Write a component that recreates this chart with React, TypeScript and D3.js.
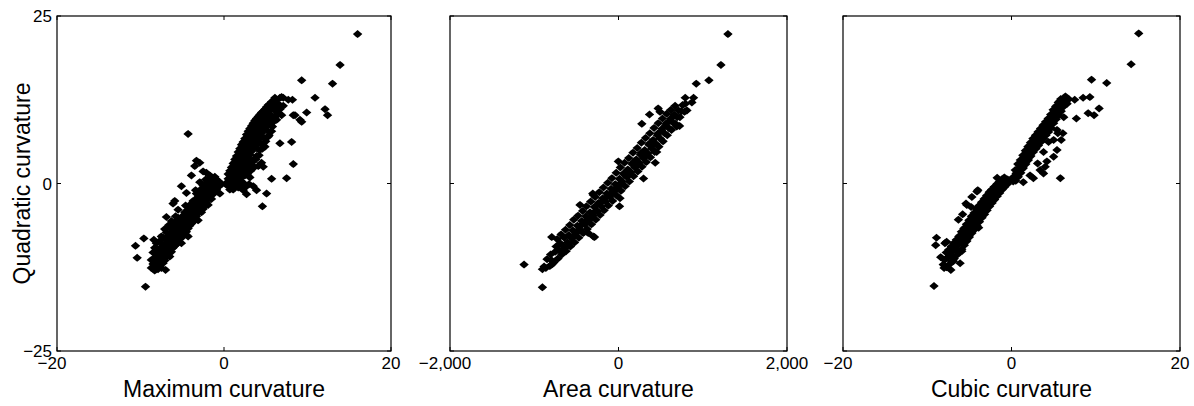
import React from "react";
import * as d3 from "d3";

// ---------- data ----------
const yTicks = [-25, 0, 25];
const yTickLabels = ["\u221225", "0", "25"];

const maxTicks = [-20, 0, 20];
const maxTickLabels = ["\u221220", "0", "20"];
const areaTicks = [-2000, 0, 2000];
const areaTickLabels = ["\u22122,000", "0", "2,000"];
const cubicTicks = [-20, 0, 20];
const cubicTickLabels = ["\u221220", "0", "20"];

const xTitles = ["Maximum curvature", "Area curvature", "Cubic curvature"];
const yTitle = "Quadratic curvature";

// Maximum curvature vs Quadratic curvature
const maximumPoints: [number, number][] = [
  // negative cluster
  [-8.7,-11.4],[-8.7,-12.6],[-8.5,-10.3],[-8.5,-12.0],[-8.3,-13.0],[-8.3,-11.1],[-8.3,-9.6],
  [-8.1,-12.2],[-8.1,-10.6],[-8.1,-8.9],[-7.9,-11.7],[-7.9,-9.9],[-7.9,-12.8],
  [-7.7,-10.9],[-7.7,-8.6],[-7.7,-12.3],[-7.7,-9.7],[-7.5,-11.6],[-7.5,-10.1],[-7.5,-7.9],[-7.5,-12.6],
  [-7.3,-9.2],[-7.3,-10.8],[-7.3,-11.9],[-7.3,-8.1],[-7.1,-10.4],[-7.1,-6.8],[-7.1,-9.1],[-7.1,-11.5],
  [-6.9,-8.4],[-6.9,-9.8],[-6.9,-11.0],[-6.9,-7.3],[-6.9,-5.0],[-6.7,-9.4],[-6.7,-10.6],[-6.7,-7.8],[-6.7,-8.7],
  [-6.5,-8.0],[-6.5,-9.9],[-6.5,-6.6],[-6.5,-10.9],[-6.3,-7.3],[-6.3,-9.0],[-6.3,-8.3],[-6.3,-10.2],[-6.3,-5.6],
  [-6.1,-8.8],[-6.1,-6.9],[-6.1,-9.6],[-6.1,-7.7],[-6.1,-3.0],[-5.9,-6.2],[-5.9,-8.1],[-5.9,-9.3],[-5.9,-7.4],[-5.9,-2.6],
  [-5.7,-7.0],[-5.7,-8.6],[-5.7,-5.6],[-5.7,-9.1],[-5.5,-6.4],[-5.5,-7.9],[-5.5,-8.8],[-5.5,-5.1],[-5.5,-3.9],
  [-5.3,-6.9],[-5.3,-5.8],[-5.3,-8.3],[-5.3,-7.5],[-5.1,-5.3],[-5.1,-7.2],[-5.1,-6.3],[-5.1,-8.9],[-5.1,-0.4],
  [-4.9,-6.6],[-4.9,-4.8],[-4.9,-7.9],[-4.9,-5.9],[-4.7,-5.2],[-4.7,-6.9],[-4.7,-4.3],[-4.7,-7.5],
  [-4.5,-6.1],[-4.5,-4.6],[-4.5,-7.2],[-4.5,-5.4],[-4.5,-1.4],[-4.3,-5.7],[-4.3,-3.9],[-4.3,-6.7],[-4.3,-4.9],[-4.3,-7.9],
  [-4.1,-4.3],[-4.1,-5.5],[-4.1,-6.3],[-4.1,-3.4],[-3.9,-4.9],[-3.9,-3.0],[-3.9,-6.0],[-3.9,-4.0],[-3.9,1.2],
  [-3.7,-4.4],[-3.7,-5.7],[-3.7,-2.6],[-3.7,-3.6],[-3.5,-3.1],[-3.5,-4.8],[-3.5,-4.0],[-3.5,-5.5],[-3.5,2.6],
  [-3.3,-2.3],[-3.3,-3.8],[-3.3,-4.9],[-3.3,-1.5],[-3.3,3.4],[-3.1,-3.3],[-3.1,-2.0],[-3.1,-4.4],[-3.1,-5.5],
  [-2.9,-2.7],[-2.9,-3.9],[-2.9,-1.2],[-2.9,3.1],[-2.9,0.2],[-2.7,-2.1],[-2.7,-3.4],[-2.7,-4.3],[-2.7,-0.8],
  [-2.5,-1.5],[-2.5,-2.9],[-2.5,-3.8],[-2.5,-0.3],[-2.5,1.8],[-2.3,-2.3],[-2.3,-1.0],[-2.3,-3.3],[-2.3,-0.1],
  [-2.1,-1.7],[-2.1,-2.8],[-2.1,-0.6],[-2.1,1.6],[-1.9,-1.2],[-1.9,-2.2],[-1.9,0.1],[-1.9,-3.2],
  [-1.7,-0.7],[-1.7,-1.8],[-1.7,0.6],[-1.7,1.2],[-1.5,-1.4],[-1.5,-0.2],[-1.5,-2.3],[-1.5,0.9],
  [-1.3,-0.8],[-1.3,0.3],[-1.3,-1.6],[-1.1,-0.4],[-1.1,-1.2],[-1.1,1.0],[-0.9,0.0],[-0.9,-0.9],[-0.9,0.6],
  [-0.7,-0.5],[-0.7,0.4],[-0.5,0.1],[-0.5,-0.3],[-0.5,-1.5],[-0.3,-0.1],
  [-8.0,-10.0],[-7.6,-11.0],[-7.2,-9.6],[-6.8,-8.0],[-6.4,-9.5],[-6.0,-7.0],[-5.6,-8.2],[-5.2,-6.0],[-4.8,-7.2],
  [-4.4,-5.1],[-4.0,-4.6],[-3.6,-3.4],[-3.2,-2.8],[-2.8,-3.0],[-2.4,-1.9],[-2.0,-1.1],[-1.6,-1.0],[-6.6,-6.2],[-5.8,-4.9],
  [-4.6,-3.3],[-3.4,-1.0],[-2.2,0.6],
  [-4.3,7.4],[-9.4,-15.4],[-10.6,-9.3],[-9.6,-8.2],[-10.4,-11.1],[-8.4,-8.4],[-7.0,-12.9],
  // positive cluster
  [0.3,0.1],[0.3,-0.2],[0.5,0.7],[0.5,-0.3],[0.5,1.4],[0.7,1.9],[0.7,0.3],[0.7,-0.9],
  [0.9,2.4],[0.9,1.1],[0.9,0.0],[1.1,3.0],[1.1,1.7],[1.1,0.4],[1.1,-0.9],
  [1.3,3.6],[1.3,2.3],[1.3,1.0],[1.3,-0.4],[1.5,4.1],[1.5,2.8],[1.5,1.5],[1.5,0.2],[1.5,3.4],
  [1.7,4.7],[1.7,3.3],[1.7,2.0],[1.7,0.8],[1.7,-0.6],[1.9,5.2],[1.9,3.9],[1.9,2.6],[1.9,1.3],
  [2.1,5.8],[2.1,4.3],[2.1,3.1],[2.1,1.8],[2.1,0.3],[2.3,6.2],[2.3,4.8],[2.3,3.6],[2.3,2.3],[2.3,-1.0],
  [2.5,6.7],[2.5,5.4],[2.5,4.1],[2.5,2.9],[2.5,1.2],[2.7,7.3],[2.7,5.9],[2.7,4.6],[2.7,3.3],[2.7,-1.6],
  [2.9,7.8],[2.9,6.3],[2.9,5.1],[2.9,3.8],[2.9,2.1],[3.1,8.2],[3.1,6.9],[3.1,5.6],[3.1,4.3],[3.1,0.9],
  [3.3,8.6],[3.3,7.4],[3.3,6.1],[3.3,4.8],[3.3,2.8],[3.5,9.0],[3.5,7.8],[3.5,6.6],[3.5,5.3],[3.5,3.5],[3.5,-0.4],
  [3.7,9.4],[3.7,8.3],[3.7,7.0],[3.7,5.7],[3.9,9.7],[3.9,8.8],[3.9,7.5],[3.9,6.2],[3.9,4.1],[3.9,-1.0],
  [4.1,10.0],[4.1,9.2],[4.1,7.9],[4.1,6.6],[4.1,2.6],[4.3,10.3],[4.3,9.6],[4.3,8.4],[4.3,7.1],[4.3,5.0],
  [4.5,10.6],[4.5,9.7],[4.5,8.8],[4.5,7.5],[4.5,3.1],[4.7,10.8],[4.7,10.0],[4.7,9.2],[4.7,7.9],[4.7,2.5],
  [4.9,11.1],[4.9,10.3],[4.9,9.5],[4.9,8.4],[4.9,5.5],[5.1,11.4],[5.1,10.1],[5.1,8.8],[5.1,-1.5],
  [5.3,11.7],[5.3,10.5],[5.3,9.3],[5.3,7.0],[5.5,11.9],[5.5,10.9],[5.5,9.6],[5.7,12.2],[5.7,11.1],[5.7,10.1],[5.7,0.7],[5.7,7.8],
  [5.9,12.4],[5.9,11.5],[5.9,9.2],[6.1,12.1],[6.1,10.9],[6.1,12.8],[6.3,11.3],[6.3,9.5],[6.3,12.5],
  [6.5,11.9],[6.5,10.6],[6.7,12.8],[6.7,11.1],[6.7,6.0],[6.9,12.9],[6.9,10.2],[7.1,12.8],[7.1,11.6],[7.5,0.8],
  [1.0,-0.3],[1.4,0.6],[1.8,1.1],[2.2,1.5],[2.6,2.2],[3.0,2.6],[3.4,3.2],[3.8,3.6],[4.2,4.2],[4.6,5.2],
  [5.0,6.3],[5.4,7.2],[5.8,8.5],[6.2,10.0],[2.0,0.8],[2.4,0.0],[2.8,1.4],[3.2,1.9],[3.6,2.4],[4.0,5.2],
  [4.4,6.0],[4.8,6.8],[5.2,7.9],[5.6,8.7],[6.0,9.6],[6.4,10.4],[2.6,-0.5],[3.0,-0.1],[1.6,-0.2],[2.0,-0.6],
  [7.7,12.5],[8.1,6.2],[8.2,12.5],[8.3,10.2],[8.3,2.9],[8.5,10.2],[9.1,9.5],[9.3,9.2],[9.9,10.6],[10.9,12.8],
  [12.1,11.1],[12.4,10.2],[9.3,15.4],[13.0,14.9],[13.9,17.7],[16.0,22.3],[4.6,-3.4],
];

// Area curvature vs Quadratic curvature
const areaPoints: [number, number][] = [
  [-862,-12.6],[-848,-11.3],[-815,-12.3],[-806,-10.6],[-791,-11.5],[-768,-11.8],[-752,-10.2],[-741,-9.4],
  [-719,-11.2],[-704,-10.0],[-693,-8.9],[-727,-8.3],[-672,-10.6],[-655,-9.4],[-644,-8.1],[-681,-7.6],
  [-622,-10.1],[-606,-8.8],[-590,-7.7],[-629,-6.9],[-571,-9.4],[-553,-8.2],[-541,-7.0],[-578,-6.2],
  [-522,-8.8],[-504,-7.4],[-488,-6.3],[-531,-5.4],[-471,-8.1],[-455,-6.9],[-437,-5.6],[-480,-4.8],
  [-419,-7.4],[-401,-6.1],[-388,-4.9],[-426,-4.1],[-372,-6.8],[-353,-5.5],[-338,-4.3],[-381,-3.4],
  [-321,-6.1],[-302,-4.8],[-287,-3.5],[-330,-2.7],[-270,-5.4],[-252,-4.1],[-238,-2.9],[-277,-2.0],
  [-219,-4.7],[-203,-3.4],[-188,-2.2],[-228,-1.3],[-171,-4.0],[-154,-2.7],[-139,-1.5],[-179,-0.6],
  [-121,-3.3],[-103,-2.0],[-88,-0.8],[-127,0.1],[-70,-2.6],[-53,-1.2],[-38,-0.1],[-78,0.8],
  [-21,-1.8],[-4,-0.5],[11,0.7],[-27,1.6],[29,-1.1],[46,0.3],[61,1.4],[22,2.4],
  [79,-0.4],[96,1.0],[111,2.1],[72,3.1],[129,0.3],[146,1.7],[161,2.9],[122,3.8],
  [179,1.1],[196,2.4],[211,3.6],[172,4.6],[229,1.8],[246,3.1],[261,4.3],[222,5.3],
  [279,2.5],[296,3.8],[311,5.0],[272,6.1],[329,3.2],[346,4.5],[361,5.8],[322,6.8],
  [379,3.9],[396,5.2],[411,6.5],[372,7.5],[429,4.7],[446,5.9],[461,7.2],[422,8.3],
  [479,5.5],[496,6.7],[511,7.9],[472,9.0],[529,6.3],[546,7.5],[561,8.7],[522,9.7],
  [579,7.2],[596,8.3],[611,9.4],[572,10.4],[629,8.0],[646,9.1],[661,10.1],[622,11.0],
  [679,8.9],[696,9.9],[711,10.9],[672,11.6],[729,9.9],[746,10.8],[761,11.7],[783,10.7],[795,11.9],
  [-640,-9.7],[-540,-7.9],[-440,-6.2],[-330,-5.0],[-230,-3.0],[-130,-1.9],[-30,-0.7],[70,1.6],
  [170,3.1],[270,4.6],[370,6.0],[470,7.5],[570,9.0],[660,10.3],[-590,-9.0],[-490,-7.1],[-390,-5.6],
  [-280,-4.2],[-180,-2.5],[-80,-1.4],[20,0.0],[120,1.2],[220,2.9],[320,4.1],[420,5.9],[520,8.2],[620,9.7],
  [1299,22.3],[1216,17.7],[1073,15.4],[923,14.9],[792,12.8],[891,12.8],[871,12.1],[812,10.9],[471,11.2],[368,10.3],
  [277,8.9],[725,8.6],[297,0.75],[12,-3.4],[-305,-1.5],[-285,-8.0],[436,3.1],[453,4.7],[-2,3.3],[-299,-1.7],
  [-457,-3.2],[18,-2.2],[-358,-7.4],[-299,-7.9],[691,8.5],[493,10.7],
  [-1121,-12.1],[-903,-15.5],[-903,-12.8],[-883,-12.4],[-792,-12.1],[-792,-8.0],
];

// Cubic curvature vs Quadratic curvature
const cubicPoints: [number, number][] = [
  // negative band
  [-8.0,-12.6],[-7.95,-11.4],[-7.7,-12.5],[-7.65,-11.1],[-7.75,-10.3],[-7.4,-12.1],[-7.35,-10.7],[-7.45,-9.9],
  [-7.1,-11.6],[-7.05,-10.2],[-7.15,-9.4],[-7.0,-11.0],[-6.8,-11.2],[-6.75,-9.7],[-6.85,-8.9],
  [-6.5,-10.7],[-6.45,-9.3],[-6.55,-8.4],[-6.4,-10.0],[-6.2,-10.3],[-6.15,-8.8],[-6.25,-7.9],
  [-5.9,-9.8],[-5.85,-8.2],[-5.95,-7.2],[-5.8,-8.9],[-5.6,-9.2],[-5.55,-7.7],[-5.65,-6.7],
  [-5.3,-8.6],[-5.25,-7.1],[-5.35,-6.1],[-5.2,-7.8],[-5.0,-8.0],[-4.95,-6.5],[-5.05,-5.5],
  [-4.7,-7.4],[-4.65,-5.9],[-4.75,-4.9],[-4.6,-6.8],[-4.4,-6.9],[-4.35,-5.3],[-4.45,-4.4],
  [-4.1,-6.3],[-4.05,-4.8],[-4.15,-3.8],[-4.0,-5.6],[-3.8,-5.7],[-3.75,-4.2],[-3.85,-3.3],
  [-3.5,-5.1],[-3.45,-3.7],[-3.55,-2.8],[-3.4,-4.4],[-3.2,-4.6],[-3.15,-3.1],[-3.25,-2.3],
  [-2.9,-4.0],[-2.85,-2.6],[-2.95,-1.8],[-2.8,-3.3],[-2.6,-3.4],[-2.55,-2.0],[-2.65,-1.3],
  [-2.3,-2.9],[-2.25,-1.6],[-2.35,-0.9],[-2.2,-2.2],[-2.0,-2.4],[-1.95,-1.2],[-2.05,-0.5],
  [-1.7,-1.9],[-1.65,-0.8],[-1.75,-0.1],[-1.4,-1.4],[-1.35,-0.4],[-1.45,0.3],
  [-1.1,-0.9],[-1.05,0.1],[-1.15,0.6],[-0.8,-0.5],[-0.75,0.4],[-0.85,0.9],[-0.5,-0.1],[-0.45,0.6],[-0.2,0.4],
  [-9.2,-15.3],[-8.9,-8.1],[-9.0,-9.2],[-7.7,-8.7],[-8.4,-11.0],[-8.1,-12.1],[-7.2,-12.9],[-6.1,-11.9],
  [-5.4,-3.0],[-4.0,-1.0],[-1.7,0.85],[-5.3,-3.2],[-4.7,-2.0],[-4.1,-1.2],[-7.9,-8.9],[-6.3,-5.4],
  [-5.8,-4.6],[-4.8,-3.5],[-6.9,-11.6],[-5.9,-10.1],[-3.9,-6.6],
  // positive band
  [0.2,0.3],[0.25,1.0],[0.5,0.4],[0.55,1.5],[0.45,2.0],[0.8,1.0],[0.85,2.2],[0.75,2.9],
  [1.1,1.6],[1.15,2.8],[1.05,3.5],[1.2,2.1],[1.4,2.3],[1.45,3.5],[1.35,4.2],
  [1.7,2.9],[1.75,4.1],[1.65,4.9],[1.8,3.4],[2.0,3.5],[2.05,4.7],[1.95,5.5],
  [2.3,4.1],[2.35,5.3],[2.25,6.1],[2.4,4.7],[2.6,4.7],[2.65,5.9],[2.55,6.7],
  [2.9,5.2],[2.95,6.4],[2.85,7.2],[3.0,5.8],[3.2,5.7],[3.25,6.9],[3.15,7.7],
  [3.5,6.2],[3.55,7.4],[3.45,8.2],[3.6,6.8],[3.8,6.7],[3.85,7.9],[3.75,8.7],
  [4.1,7.2],[4.15,8.4],[4.05,9.2],[4.2,7.8],[4.4,7.7],[4.45,8.9],[4.35,9.7],
  [4.7,8.3],[4.75,9.5],[4.65,10.3],[4.8,8.9],[5.0,9.0],[5.05,10.2],[4.95,11.0],
  [5.3,9.6],[5.35,10.8],[5.25,11.5],[5.4,10.1],[5.6,10.2],[5.65,11.4],[5.55,12.1],
  [5.9,10.8],[5.95,12.0],[5.85,12.6],[6.2,11.5],[6.25,12.6],[6.5,12.0],[6.4,13.0],
  [3.8,4.7],[4.2,3.3],[2.6,0.8],[3.4,2.0],[5.8,0.8],[5.5,7.5],[5.0,6.5],[4.4,6.2],[5.4,8.0],[3.1,3.0],
  [2.2,1.2],[1.4,0.2],[6.2,9.9],[7.7,9.7],[7.5,12.5],[8.5,12.8],[9.3,12.9],[10.4,11.2],[9.8,10.2],[9.1,10.5],
  [9.5,15.5],[11.3,15.0],[14.2,17.8],[15.1,22.4],[6.1,7.5],[5.9,6.5],[5.4,5.0],[5.0,4.0],[4.0,2.5],[3.8,1.5],
  [6.8,12.6],[6.6,11.9],
];

// ---------- layout ----------
const W = 1194;
const H = 406;
const TOP = 16;
const BOTTOM = 351;
const panels = [
  { left: 57, right: 391, domain: [-20, 20], ticks: maxTicks, labels: maxTickLabels, points: maximumPoints, title: xTitles[0], yLabels: true },
  { left: 450, right: 787, domain: [-2000, 2000], ticks: areaTicks, labels: areaTickLabels, points: areaPoints, title: xTitles[1], yLabels: false },
  { left: 843, right: 1180, domain: [-20, 20], ticks: cubicTicks, labels: cubicTickLabels, points: cubicPoints, title: xTitles[2], yLabels: false },
];

const FONT = "'Liberation Sans', Arial, Helvetica, sans-serif";
const MARK = "M0,-4L2.3,-2.1L4.7,0L2.3,2.1L0,4L-2.3,2.1L-4.7,0L-2.3,-2.1Z";

function digitWidth(label: string, fs: number) {
  let w = 0;
  for (const ch of label.replace("\u2212", "")) w += ch === "," ? 0.278 : 0.556;
  return w * fs;
}

export default function App() {
  const y = d3.scaleLinear().domain([-25, 25]).range([BOTTOM, TOP]);
  const TICK = 4;
  const FS = 17;
  return (
    <svg width={W} height={H} style={{ position: "absolute", left: 0, top: 0, background: "#fff" }}>
      {panels.map((p, i) => {
        const x = d3.scaleLinear().domain(p.domain).range([p.left, p.right]);
        return (
          <g key={i}>
            {p.ticks.map((t, k) => (
              <g key={"xt" + k}>
                <line x1={x(t)} x2={x(t)} y1={BOTTOM} y2={BOTTOM - TICK} stroke="#000" strokeWidth={1} />
                <line x1={x(t)} x2={x(t)} y1={TOP} y2={TOP + TICK} stroke="#000" strokeWidth={1} />
                <text
                  x={t < 0 ? x(t) + digitWidth(p.labels[k], FS) / 2 : x(t)}
                  y={369}
                  fontSize={FS}
                  fontFamily={FONT}
                  textAnchor={t < 0 ? "end" : "middle"}
                  fill="#000"
                >
                  {p.labels[k]}
                </text>
              </g>
            ))}
            {yTicks.map((t, k) => (
              <g key={"yt" + k}>
                <line x1={p.left} x2={p.left + TICK} y1={y(t)} y2={y(t)} stroke="#000" strokeWidth={1} />
                <line x1={p.right} x2={p.right - TICK} y1={y(t)} y2={y(t)} stroke="#000" strokeWidth={1} />
                {p.yLabels && (
                  <text x={p.left - 5} y={y(t) + 6} fontSize={FS} fontFamily={FONT} textAnchor="end" fill="#000">
                    {yTickLabels[k]}
                  </text>
                )}
              </g>
            ))}
            {p.points.map((d, k) => (
              <path key={k} d={MARK} transform={`translate(${x(d[0])},${y(d[1])})`} fill="#000" />
            ))}
            <rect x={p.left} y={TOP} width={p.right - p.left} height={BOTTOM - TOP} fill="none" stroke="#000" strokeWidth={1.2} />
            <text x={(p.left + p.right) / 2} y={397} fontSize={23} fontFamily={FONT} textAnchor="middle" fill="#000">
              {p.title}
            </text>
          </g>
        );
      })}
      <text
        transform={`translate(30,${(TOP + BOTTOM) / 2}) rotate(-90)`}
        fontSize={23}
        fontFamily={FONT}
        textAnchor="middle"
        fill="#000"
      >
        {yTitle}
      </text>
    </svg>
  );
}
